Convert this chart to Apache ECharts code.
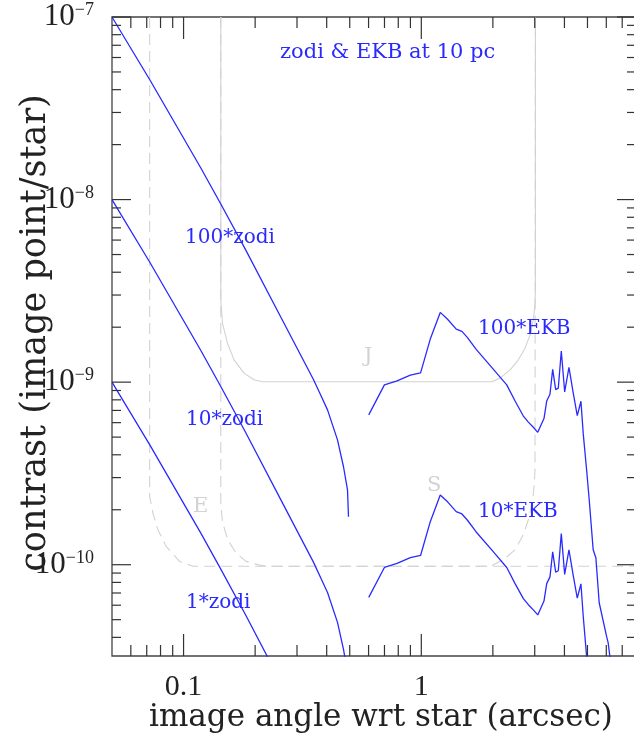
<!DOCTYPE html>
<html>
<head>
<meta charset="utf-8">
<script src="https://cdn.jsdelivr.net/npm/echarts@6/dist/echarts.min.js"></script>
<style>
  html, body { margin: 0; padding: 0; background: #fff; }
  #chart { width: 634px; height: 738px; }
</style>
</head>
<body>
<div id="chart"></div>
<script>
// zodiacal light curves (1x, 10x, 100x) sharing one set of angles
const zodiX = [0.05, 0.0722, 0.1182, 0.1434, 0.1825, 0.256, 0.3522, 0.3769, 0.4032, 0.4441, 0.4707, 0.4893, 0.494];
const zodi100 = [1.0e-7, 4.52e-8, 1.49e-8, 9.46e-9, 5.30e-9, 2.28e-9, 1.03e-9, 8.52e-10, 7.05e-10, 4.83e-10, 3.44e-10, 2.57e-10, 1.83e-10];
const zodi10 = [1.0e-8, 4.52e-9, 1.49e-9, 9.46e-10, 5.30e-10, 2.28e-10, 1.03e-10, 8.52e-11, 7.05e-11, 4.83e-11, 3.44e-11, 2.57e-11];
const zodi1 = [1.0e-9, 4.52e-10, 1.49e-10, 9.46e-11, 5.30e-11, 2.28e-11];

// EKB curves
const ekbX = [0.601, 0.6995, 0.7907, 0.8993, 0.993, 1.0908, 1.2015, 1.2897, 1.4025, 1.4818, 1.5642, 1.7016,
  2.011, 2.288, 2.480, 2.687, 2.820, 2.960, 3.089, 3.281, 3.369, 3.477, 3.570, 3.675, 3.769, 3.880,
  4.009, 4.179, 4.357, 4.529, 4.603, 4.693, 4.798, 4.958, 5.085, 5.284, 5.424, 5.601, 6.017, 6.110, 6.211, 6.35];
const ekb100 = [6.62e-10, 9.66e-10, 1.016e-9, 1.093e-9, 1.124e-9, 1.721e-9, 2.41e-9, 2.21e-9, 1.952e-9, 1.897e-9, 1.752e-9, 1.511e-9,
  1.175e-9, 9.66e-10, 7.88e-10, 6.52e-10, 6.04e-10, 5.66e-10, 5.31e-10, 6.32e-10, 7.88e-10, 8.58e-10, 1.175e-9, 9.10e-10, 9.27e-10, 1.480e-9,
  8.85e-10, 1.205e-9, 8.71e-10, 6.56e-10, 6.46e-10, 7.86e-10, 5.24e-10, 3.31e-10, 2.27e-10, 1.208e-10, 1.092e-10, 6.19e-11, 4.05e-11, 3.73e-11, 3.15e-11, 2.6e-11];
const ekb10 = [6.62e-11, 9.66e-11, 1.016e-10, 1.093e-10, 1.124e-10, 1.721e-10, 2.41e-10, 2.21e-10, 1.952e-10, 1.897e-10, 1.752e-10, 1.511e-10,
  1.175e-10, 9.66e-11, 7.88e-11, 6.52e-11, 6.04e-11, 5.66e-11, 5.31e-11, 6.32e-11, 7.88e-11, 8.58e-11, 1.175e-10, 9.10e-11, 9.27e-11, 1.480e-10,
  8.85e-11, 1.205e-10, 8.71e-11, 6.56e-11, 6.46e-11, 7.86e-11, 5.24e-11, 3.15e-11, 2.3e-11];

// instrument limits J (solid), S and E (dashed)
const jX = [0.1434, 0.1434, 0.1458, 0.1530, 0.1631, 0.1796, 0.1978, 0.2146, 1.980, 2.145, 2.363, 2.561, 2.732, 2.867, 2.960, 3.008, 3.02, 3.02];
const jY = [1e-7, 2.82e-9, 2.10e-9, 1.634e-9, 1.325e-9, 1.12e-9, 1.03e-9, 1.005e-9, 1.005e-9, 1.052e-9, 1.168e-9, 1.325e-9, 1.535e-9, 1.815e-9, 2.193e-9, 2.706e-9, 3.2e-9, 1e-7];
const sX = [0.1434, 0.1434, 0.1462, 0.1534, 0.1662, 0.1831, 0.2084, 0.235, 1.948, 2.215, 2.480, 2.687, 2.820, 2.943, 2.989, 3.008, 3.02];
const sY = [1e-7, 2.085e-10, 1.690e-10, 1.370e-10, 1.159e-10, 1.043e-10, 9.95e-11, 9.8e-11, 9.8e-11, 1.065e-10, 1.208e-10, 1.459e-10, 1.763e-10, 2.27e-10, 2.80e-10, 3.31e-10, 1e-7];
const eX = [0.072, 0.072, 0.0743, 0.0780, 0.0845, 0.0962, 0.1094, 8];
const eY = [1e-7, 2.365e-10, 1.919e-10, 1.554e-10, 1.259e-10, 1.043e-10, 9.8e-11, 9.8e-11];

const xMajor = [0.1, 1];
const yMajor = [1e-10, 1e-9, 1e-8, 1e-7];

const zip = (xs, ys) => ys.map((y, i) => [xs[i], y]);

// log minor ticks 2..9 x 10^k inside the range
function minors(lo, hi, e0, e1) {
  const out = [];
  for (let e = e0; e <= e1; e++) {
    for (let k = 2; k <= 9; k++) {
      const v = k * Math.pow(10, e);
      if (v > lo * 1.001 && v < hi * 0.999) out.push(v);
    }
  }
  return out;
}
const xMin = 0.05, xMax = 8, yMin = Math.pow(10, -10.5), yMax = 1e-7;
const xTicks = xMajor.map(v => [v, 1e-9, 22]).concat(minors(xMin, xMax, -2, 0).map(v => [v, 1e-9, 11]));
const yTicks = yMajor.map(v => [1, v, 19]).concat(minors(yMin, yMax, -11, -8).map(v => [1, v, 9]));

const isPow10 = v => Math.abs(Math.log10(v) - Math.round(Math.log10(v))) < 1e-6;
const BLUE = '#2a2aff';
const GRAY = '#d2d2d2';
const serif = '"DejaVu Serif", serif';

const myChart = echarts.init(document.getElementById('chart'));

function blueLine(data) {
  return { type: 'line', data: data, showSymbol: false, silent: true, clip: true,
    lineStyle: { color: BLUE, width: 1.3 }, z: 3 };
}
function grayLine(data, dashed) {
  return { type: 'line', data: data, showSymbol: false, silent: true, clip: true,
    lineStyle: { color: GRAY, width: 1.1, type: dashed ? [11, 6] : 'solid' }, z: 2 };
}

function tickRender(isX) {
  return function (params, api) {
    const cs = params.coordSys;
    const p = api.coord([api.value(0), api.value(1)]);
    const len = api.value(2);
    const st = { stroke: '#333', lineWidth: 1.2 };
    if (isX) {
      const b = cs.y + cs.height;
      return { type: 'group', children: [
        { type: 'line', shape: { x1: p[0], y1: b, x2: p[0], y2: b - len }, style: st },
        { type: 'line', shape: { x1: p[0], y1: cs.y, x2: p[0], y2: cs.y + len }, style: st }
      ] };
    }
    const r = cs.x + cs.width;
    return { type: 'group', children: [
      { type: 'line', shape: { x1: cs.x, y1: p[1], x2: cs.x + len, y2: p[1] }, style: st },
      { type: 'line', shape: { x1: r, y1: p[1], x2: r - len, y2: p[1] }, style: st }
    ] };
  };
}

function label(text, x, y, color, size) {
  return { type: 'text', x: x, y: y, silent: true, z: 10,
    style: { text: text, fill: color, font: size + 'px ' + serif, textAlign: 'left', textVerticalAlign: 'middle' } };
}

myChart.setOption({
  animation: false,
  grid: { left: 112, top: 17, width: 524, height: 639, show: true, borderColor: '#444', borderWidth: 1.3,
    outerBoundsMode: 'none', containLabel: false },
  xAxis: {
    type: 'log', min: xMin, max: xMax,
    axisLine: { show: false }, axisTick: { show: false }, splitLine: { show: false },
    axisLabel: {
      margin: 16, color: '#222', fontFamily: 'Liberation Serif', fontSize: 30,
      formatter: v => isPow10(v) ? (v >= 1 ? String(Math.round(v)) : String(+v.toPrecision(1))) : ''
    }
  },
  yAxis: {
    type: 'log', min: yMin, max: yMax,
    axisLine: { show: false }, axisTick: { show: false }, splitLine: { show: false },
    axisLabel: {
      margin: 18, color: '#222',
      formatter: v => isPow10(v) ? '{b|10}{s|\u2212' + (-Math.round(Math.log10(v))) + '}' : '',
      rich: {
        b: { fontFamily: 'Liberation Serif', fontSize: 31, color: '#222' },
        s: { fontFamily: 'Liberation Serif', fontSize: 18, color: '#222', verticalAlign: 'top' }
      }
    }
  },
  graphic: [
    { type: 'text', x: 381, y: 718, silent: true,
      style: { text: 'image angle wrt star (arcsec)', fill: '#222', font: '31px ' + serif, textAlign: 'center', textVerticalAlign: 'middle' } },
    { type: 'text', x: 36, y: 333, rotation: Math.PI / 2, silent: true,
      style: { text: 'contrast (image point/star)', fill: '#222', font: '35px ' + serif, textAlign: 'center', textVerticalAlign: 'middle' } },
    label('zodi & EKB at 10 pc', 280, 53, BLUE, 21),
    label('100*zodi', 185, 238, BLUE, 20),
    label('10*zodi', 186, 420, BLUE, 20),
    label('1*zodi', 186, 603, BLUE, 20),
    label('100*EKB', 478, 329, BLUE, 20),
    label('10*EKB', 478, 512, BLUE, 20),
    label('J', 364, 357, GRAY, 21),
    label('S', 427, 486, GRAY, 21),
    label('E', 193, 507, GRAY, 21)
  ],
  series: [
    grayLine(zip(eX, eY), true),
    grayLine(zip(jX, jY), false),
    grayLine(zip(sX, sY), true),
    blueLine(zip(zodiX, zodi100)),
    blueLine(zip(zodiX, zodi10)),
    blueLine(zip(zodiX, zodi1)),
    blueLine(zip(ekbX, ekb100)),
    blueLine(zip(ekbX, ekb10)),
    { type: 'custom', renderItem: tickRender(true), data: xTicks, silent: true, z: 5, clip: false },
    { type: 'custom', renderItem: tickRender(false), data: yTicks, silent: true, z: 5, clip: false }
  ]
});
</script>
</body>
</html>
